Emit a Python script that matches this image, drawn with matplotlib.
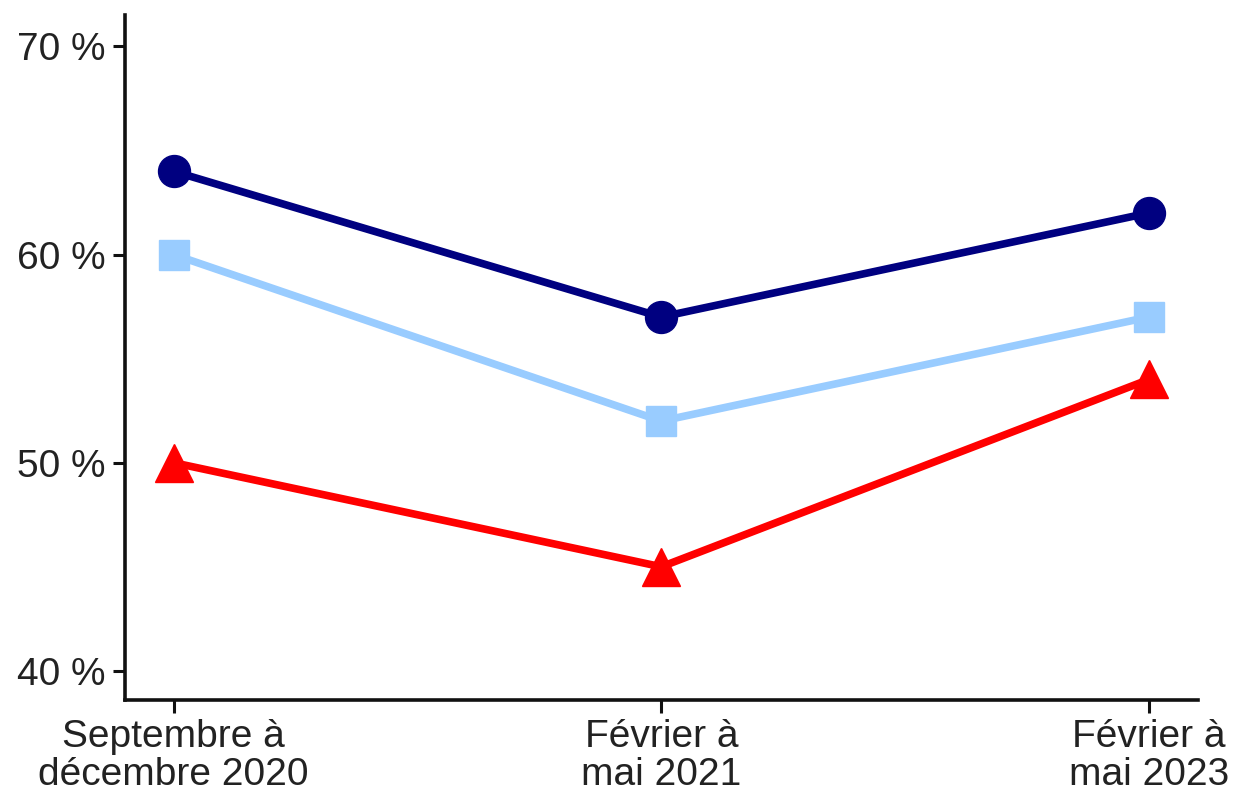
import matplotlib
matplotlib.use("Agg")
import matplotlib.pyplot as plt
from matplotlib.ticker import FuncFormatter

periods = ["Septembre à\ndécembre 2020", "Février à\nmai 2021", "Février à\nmai 2023"]
serie_navy = [64, 57, 62]
serie_light = [60, 52, 57]
serie_red = [50, 45, 54]
yticks = [40, 50, 60, 70]

plt.rcParams['font.family'] = ['Liberation Sans', 'DejaVu Sans']

fig = plt.figure(figsize=(12.36, 8), dpi=100)
ax = fig.add_axes([0.101, 0.125, 0.868, 0.856])

x = range(len(periods))
ax.plot(x, serie_navy, color='#000080', lw=5.5, marker='o', ms=23)
ax.plot(x, serie_light, color='#99CCFF', lw=5.5, marker='s', ms=22)
ax.plot(x, serie_red, color='#FF0000', lw=5.5, marker='^', ms=27)

ax.set_xlim(-0.1, 2.1)
ax.set_ylim(38.6, 71.5)
ax.set_xticks(list(x))
ax.set_xticklabels(periods, linespacing=1.05)
ax.set_yticks(yticks)
ax.yaxis.set_major_formatter(FuncFormatter(lambda v, p: f"{v:.0f} %"))

for s in ['top', 'right']:
    ax.spines[s].set_visible(False)
for s in ['left', 'bottom']:
    ax.spines[s].set_linewidth(2.6)
    ax.spines[s].set_color('#111111')
ax.tick_params(axis='both', labelsize=28, colors='#111111', labelcolor='#222222',
               width=2.2, length=9, pad=5)

fig.savefig("out.png", dpi=100)
